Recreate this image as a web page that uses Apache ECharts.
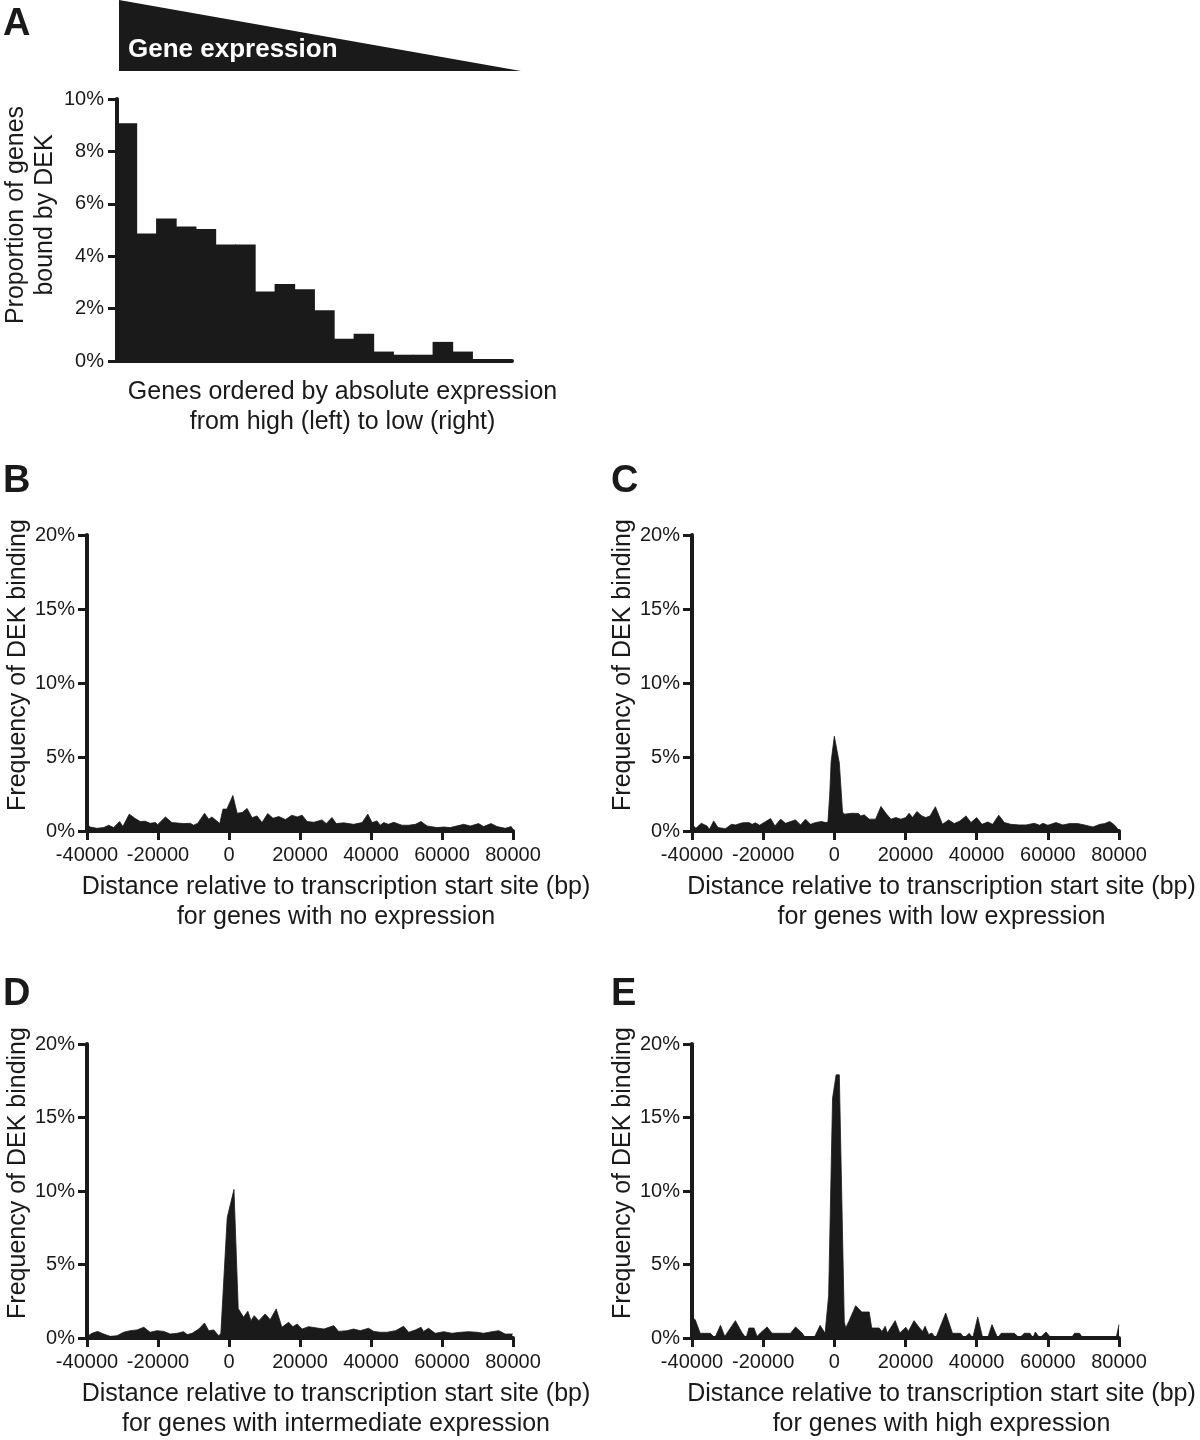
<!DOCTYPE html>
<html><head><meta charset="utf-8">
<script src="https://cdn.jsdelivr.net/npm/echarts@6/dist/echarts.min.js"></script>
<style>html,body{margin:0;padding:0;background:#fff}#c{width:1200px;height:1440px}</style>
</head><body><div id="c"></div>
<script>
const FONT = '"Liberation Sans", Arial, Helvetica, sans-serif';
const INK = '#1a1a1a';

// ---- Panel A: proportion of genes bound by DEK, 20 expression bins (high -> low)
const expressionBins = ['1','2','3','4','5','6','7','8','9','10','11','12','13','14','15','16','17','18','19','20'];
const proportionBound = [9.07, 4.87, 5.44, 5.13, 5.04, 4.45, 4.45, 2.65, 2.94, 2.74, 1.94, 0.85, 1.04, 0.36, 0.24, 0.24, 0.73, 0.36, 0.05, 0.05];
const propTicks = {min: 0, max: 10, interval: 2};

// ---- Panel B: no expression
const noExprX = [-40000,-39100,-37200,-35300,-33900,-32500,-30800,-29900,-28100,-26400,-25000,-23600,-22200,-20700,-20100,-17900,-16100,-12800,-10900,-10000,-8800,-6900,-5700,-4800,-2600,-1700,-600,1100,2300,3700,5100,6500,7900,9300,10900,12400,14000,15900,17700,19200,20600,22000,23900,26200,27400,29000,30200,32300,35100,37500,39100,40300,41700,42600,43600,44900,46400,48700,50600,52500,54100,55800,58600,60500,62300,66100,68000,70300,71700,73800,75500,77800,79500,80000];
const noExprY = [0.39,0.27,0.18,0.23,0.39,0.23,0.64,0.3,1.14,0.84,0.64,0.66,0.52,0.57,0.43,0.95,0.57,0.5,0.52,0.39,0.52,1.2,0.8,0.95,0.5,1.48,1.48,2.4,1.2,1.25,1.52,0.9,1.02,0.57,1.18,0.86,0.98,0.77,1.07,0.95,1.07,0.64,0.59,0.75,0.5,0.91,0.5,0.55,0.45,0.57,1.14,0.57,0.68,0.39,0.57,0.45,0.59,0.39,0.39,0.45,0.64,0.34,0.23,0.27,0.23,0.45,0.34,0.5,0.3,0.5,0.3,0.18,0.3,0.1];

// ---- Panel C: low expression
const lowExprX = [-40000,-38900,-37400,-35800,-35100,-33900,-32700,-30600,-28900,-27800,-25900,-24000,-23100,-22200,-21000,-19300,-17900,-16700,-15100,-13700,-12300,-10900,-9500,-8100,-6700,-5300,-3600,-2400,-1800,-1300,-900,0,1400,2300,2700,5100,6800,7400,8400,9800,11600,13100,14500,15900,17300,18700,20100,21000,22000,23200,24600,25700,26900,28400,30400,32100,33700,35300,37000,38400,40000,41500,43100,44500,46200,47800,49600,52000,53900,56200,57700,58600,60000,62300,64200,66100,68400,70300,72700,74600,76000,77400,78800,79700,80000];
const lowExprY = [0.45,0.18,0.52,0.34,0.11,0.68,0.23,0.16,0.45,0.41,0.55,0.57,0.45,0.55,0.39,0.64,0.84,0.34,0.8,0.52,0.64,0.75,0.41,0.8,0.45,0.57,0.64,0.57,0.6,2.45,4.7,6.4,4.6,1.3,1.14,1.2,1.18,1.02,1.09,0.8,0.8,1.66,1.2,0.8,0.91,0.8,0.91,1.2,0.91,1.32,1.02,0.91,1.02,1.64,0.45,0.75,0.5,0.68,1.02,0.57,0.91,0.45,0.61,0.45,1.07,0.57,0.45,0.41,0.41,0.52,0.39,0.52,0.39,0.57,0.41,0.5,0.5,0.41,0.27,0.45,0.5,0.64,0.39,0.11,0.1];

// ---- Panel D: intermediate expression
const midExprX = [-40000,-38600,-37000,-35300,-33400,-31500,-29700,-27800,-25900,-24000,-22200,-20300,-18400,-16500,-14600,-12800,-11800,-10400,-8500,-6900,-5700,-4300,-2900,-2300,-500,1400,2600,4100,5300,6200,7100,8400,10200,11600,13300,14900,16800,18000,19200,20600,22400,24800,26700,29500,30900,33200,35100,37000,39300,40800,42600,44500,46900,49200,50600,52500,54100,54800,56200,58100,60500,62800,65200,67500,69900,71700,74100,76000,77800,79700,80000];
const midExprY = [0.09,0.32,0.45,0.27,0.11,0.16,0.39,0.5,0.55,0.73,0.39,0.5,0.45,0.27,0.32,0.43,0.23,0.32,0.61,1.02,0.5,0.55,0.16,0.3,8.2,10.1,2.0,1.41,1.82,1.18,1.52,1.18,1.64,1.25,1.98,0.73,1.07,0.77,0.95,0.61,0.77,0.68,0.61,0.84,0.45,0.5,0.61,0.5,0.66,0.45,0.39,0.39,0.5,0.8,0.39,0.55,0.73,0.45,0.66,0.32,0.43,0.32,0.39,0.43,0.39,0.32,0.43,0.5,0.27,0.27,0.27];

// ---- Panel E: high expression
const highExprX = [-40000,-39100,-37700,-34800,-33600,-32000,-30800,-27800,-25900,-24800,-24000,-22600,-21700,-20800,-18900,-17500,-12300,-10900,-9000,-8100,-5700,-4000,-2600,-2100,-1600,-500,500,1400,2800,3200,4100,6000,7700,9800,10500,12600,13400,14300,14900,17100,18400,20100,20800,22400,23800,24800,25500,26500,27400,28500,31300,33200,35500,36500,37900,38900,40300,41700,43100,44300,45900,46900,50600,52000,53400,55000,55800,56500,57700,59500,60900,66600,67500,68900,69800,79200,80000];
const highExprY = [1.4,1.25,0.32,0.32,0,0.86,0.11,1.18,0.34,0,0.68,0.68,0.11,0.34,0.75,0.32,0.32,0.75,0.32,0,0,0.86,0.32,0.32,2.9,16.3,17.9,17.9,1.1,0.68,1.14,2.2,1.77,1.77,0.68,0.68,0.45,0.8,0.34,1.18,0.34,0.73,0.45,1.18,0.73,0.45,0.8,0.23,0.34,0,1.7,0.32,0.32,0,0.32,0,1.43,0,0,0.91,0,0.32,0.32,0,0.32,0.32,0,0.41,0,0.41,0,0,0.32,0.32,0,0,0.91];

const distTicks = {min: -40000, max: 80000, interval: 20000};
const freqTicks = {min: 0, max: 20, interval: 5};

const pairs = (xs, ys) => xs.map((x, i) => [x, ys[i]]);

const chart = echarts.init(document.getElementById('c'), null, {renderer: 'canvas'});

const lineS = {color: INK, width: 4};
const tickS = {color: INK, width: 3};

const profiles = [
  {grid: {left: 87, top: 535, width: 426, height: 296}, x: noExprX, y: noExprY, sub: 'for genes with no expression'},
  {grid: {left: 692, top: 535, width: 427, height: 296}, x: lowExprX, y: lowExprY, sub: 'for genes with low expression'},
  {grid: {left: 87, top: 1044, width: 426, height: 296}, x: midExprX, y: midExprY, sub: 'for genes with intermediate expression'},
  {grid: {left: 692, top: 1044, width: 427, height: 296}, x: highExprX, y: highExprY, sub: 'for genes with high expression'}
];

const grids = [{left: 117, top: 99, width: 395, height: 262}];
const xAxes = [{
  type: 'category', gridIndex: 0, data: expressionBins,
  axisLine: {show: true, lineStyle: lineS}, axisTick: {show: false}, axisLabel: {show: false},
  name: 'Genes ordered by absolute expression\nfrom high (left) to low (right)',
  nameLocation: 'middle', nameGap: 16,
  nameTextStyle: {color: INK, fontSize: 25, fontFamily: FONT, lineHeight: 30, padding: [0, 0, 0, 56]}
}];
const yAxes = [{
  type: 'value', gridIndex: 0, min: propTicks.min, max: propTicks.max, interval: propTicks.interval,
  axisLine: {show: true, onZero: false, lineStyle: lineS},
  axisTick: {show: true, length: 9, lineStyle: tickS},
  axisLabel: {color: INK, fontSize: 20, fontFamily: FONT, margin: 13, formatter: '{value}%'},
  splitLine: {show: false},
  name: 'Proportion of genes\nbound by DEK', nameLocation: 'middle', nameGap: 54,
  nameTextStyle: {color: INK, fontSize: 25, fontFamily: FONT, lineHeight: 29, padding: [0, 0, 0, 30]}
}];
const series = [{
  type: 'bar', xAxisIndex: 0, yAxisIndex: 0, data: proportionBound,
  barWidth: 20.6, itemStyle: {color: INK}, silent: true
}];

profiles.forEach((p, k) => {
  const gi = k + 1;
  grids.push(p.grid);
  xAxes.push({
    type: 'value', gridIndex: gi, min: distTicks.min, max: distTicks.max, interval: distTicks.interval,
    axisLine: {show: true, onZero: false, lineStyle: lineS},
    axisTick: {show: true, length: 9, lineStyle: tickS},
    axisLabel: {color: INK, fontSize: 20, fontFamily: FONT, margin: 14, formatter: v => String(v)},
    splitLine: {show: false},
    name: 'Distance relative to transcription start site (bp)\n' + p.sub,
    nameLocation: 'middle', nameGap: 41,
    nameTextStyle: {color: INK, fontSize: 25, fontFamily: FONT, lineHeight: 30, padding: [0, 0, 0, 72]}
  });
  yAxes.push({
    type: 'value', gridIndex: gi, min: freqTicks.min, max: freqTicks.max, interval: freqTicks.interval,
    axisLine: {show: true, onZero: false, lineStyle: lineS},
    axisTick: {show: true, length: 9, lineStyle: tickS},
    axisLabel: {color: INK, fontSize: 20, fontFamily: FONT, margin: 12, formatter: '{value}%'},
    splitLine: {show: false},
    name: 'Frequency of DEK binding', nameLocation: 'middle', nameGap: 52,
    nameTextStyle: {color: INK, fontSize: 25, fontFamily: FONT, padding: [0, 0, 0, 36]}
  });
  series.push({
    type: 'line', xAxisIndex: gi, yAxisIndex: gi, data: pairs(p.x, p.y),
    showSymbol: false, symbol: 'none', silent: true,
    lineStyle: {color: INK, width: 0.8}, areaStyle: {color: INK, opacity: 1}
  });
});

const letter = (t, x, y) => ({type: 'text', left: x, top: y,
  style: {text: t, fill: INK, font: 'bold 38px ' + FONT}});

chart.setOption({
  animation: false,
  backgroundColor: '#fff',
  grid: grids, xAxis: xAxes, yAxis: yAxes, series: series,
  graphic: [
    {type: 'polygon', shape: {points: [[119, 0], [119, 71], [521, 71]]}, style: {fill: INK}},
    {type: 'text', left: 128, top: 37, style: {text: 'Gene expression', fill: '#fff', font: 'bold 26px ' + FONT}},
    letter('A', 3, 6), letter('B', 3, 463), letter('C', 611, 463), letter('D', 3, 976), letter('E', 611, 976)
  ]
});
</script></body></html>
